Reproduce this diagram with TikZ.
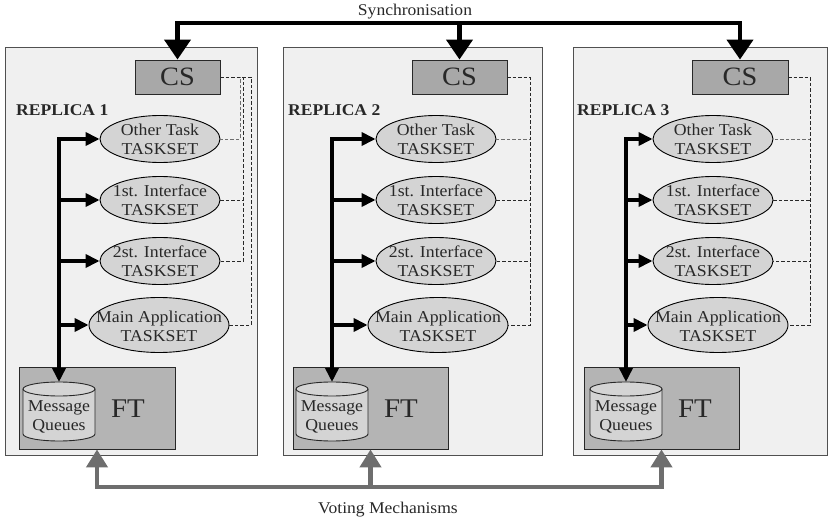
\documentclass[tikz,border=0pt]{standalone}
\usepackage{fontspec}
\setmainfont{Liberation Serif}[FakeStretch=1.07]
\usetikzlibrary{arrows.meta,shapes.geometric}

\definecolor{replicabg}{RGB}{240,240,240}
\definecolor{replicaline}{RGB}{80,80,80}
\definecolor{csfill}{RGB}{168,168,168}
\definecolor{ftfill}{RGB}{180,180,180}
\definecolor{taskfill}{RGB}{212,212,212}
\definecolor{votegray}{RGB}{110,110,110}
\definecolor{inkgray}{RGB}{40,40,40}
\definecolor{lightdash}{RGB}{110,110,110}

\tikzset{
  replicabox/.style={draw=replicaline, fill=replicabg, line width=0.9pt},
  csbox/.style={draw=inkgray, fill=csfill, line width=0.9pt, rectangle,
    minimum height=34pt, inner sep=0pt, font=\fontsize{26.5}{28}\selectfont, text=inkgray},
  ftbox/.style={draw=inkgray, fill=ftfill, line width=0.9pt, rectangle,
    minimum height=82pt, inner sep=0pt},
  ftlabel/.style={font=\fontsize{27}{28}\selectfont, text=inkgray, inner sep=0pt},
  task/.style={draw=black, fill=taskfill, line width=0.9pt, ellipse,
    minimum width=120pt, minimum height=47pt, inner sep=0pt},
  maintask/.style={task, minimum width=140pt, minimum height=55pt},
  tasktext/.style={align=center, inner sep=0pt, text=inkgray,
    font=\fontsize{16.6}{19}\selectfont},
  replicalabel/.style={anchor=base west, inner sep=0pt, text=inkgray,
    font=\fontsize{16.4}{19}\selectfont\bfseries},
  caption/.style={anchor=base, inner sep=0pt, text=inkgray,
    font=\fontsize{16.4}{19}\selectfont},
  bus/.style={draw=black, line width=3.8pt, line join=miter,
    -{Triangle[length=14pt,width=13pt]}},
  busboth/.style={bus, {Triangle[length=14pt,width=13pt]}-{Triangle[length=14pt,width=13pt]}},
  syncarrow/.style={draw=black, line width=4.3pt, line join=miter,
    -{Triangle[length=20pt,width=26pt]}},
  syncboth/.style={syncarrow, {Triangle[length=20pt,width=26pt]}-{Triangle[length=20pt,width=26pt]}},
  votearrow/.style={draw=votegray, line width=4.3pt, line join=miter,
    -{Triangle[length=18pt,width=21pt]}},
  voteboth/.style={votearrow, {Triangle[length=18pt,width=21pt]}-{Triangle[length=18pt,width=21pt]}},
  dashlink/.style={draw=inkgray, line width=0.9pt, dash pattern=on 3.5pt off 2pt},
  dashlight/.style={dashlink, draw=lightdash},
  cylline/.style={draw=inkgray, line width=0.9pt},
}

\begin{document}
\begin{tikzpicture}[x=1pt, y=-1pt]
\useasboundingbox (0,0) rectangle (828,519);

% one replica per row of parameters:
% index / box left / box right / label x / CS left / CS right / task x / main task x /
% bus x / FT left / FT right / dashed x (other task) / dashed x (interfaces) / dashed x (main)
\foreach \i/\L/\R/\rx/\csl/\csr/\E/\Em/\B/\fl/\fr/\da/\db/\dc in {
  1/5/257/16/135/220/160/159/59/19/175/240/243/251,
  2/283/542/288/412/507/436/438/332/293/448/530/530/530,
  3/573/827/577/692/788/713/718/626/584/739/810/810/810}{
  % replica frame
  \draw[replicabox] (\L,47) rectangle (\R,455);
  \node[replicalabel] (rl\i) at (\rx,115) {REPLICA \i};

  % CS block
  \node[csbox, minimum width={\csr-\csl}] (cs\i) at ({(\csl+\csr)/2},77) {CS};

  % task sets
  \node[task] (ot\i) at (\E,139) {};
  \node[tasktext] (otl\i) at (ot\i) {Other Task\\TASKSET};
  \node[task] (ia\i) at (\E,200) {};
  \node[tasktext] (ial\i) at (ia\i) {1st. Interface\\TASKSET};
  \node[task] (ib\i) at (\E,261) {};
  \node[tasktext] (ibl\i) at (ib\i) {2st. Interface\\TASKSET};
  \node[maintask] (ma\i) at (\Em,325) {};
  \node[tasktext] (mal\i) at ([yshift=-1pt]ma\i) {Main Application\\TASKSET};

  % FT block with the message queue cylinder
  \node[ftbox, minimum width={\fr-\fl}] (ft\i) at ({(\fl+\fr)/2},408) {};
  \node[ftlabel] (ftl\i) at ({\B+69},409) {FT};
  \fill[taskfill] ({\B-36},389) -- ({\B-36},434)
     arc[start angle=180, end angle=360, x radius=36pt, y radius=7pt]
     -- ({\B+36},389) arc[start angle=0, end angle=180, x radius=36pt, y radius=7pt] -- cycle;
  \draw[cylline] ({\B-36},389) -- ({\B-36},434)
     arc[start angle=180, end angle=360, x radius=36pt, y radius=7pt]
     -- ({\B+36},389);
  \draw[cylline] (\B,389) ellipse[x radius=36pt, y radius=7pt];
  \coordinate (cy\i) at (\B,382);
  \node[tasktext] (mq\i) at (\B,417) {Message\\Queues};

  % internal bus from the task sets to the message queues
  \draw[busboth] (ot\i.west) -| (cy\i);
  \draw[bus] (ia\i.west -| cy\i) -- (ia\i.west);
  \draw[bus] (ib\i.west -| cy\i) -- (ib\i.west);
  \draw[bus] (ma\i.west -| cy\i) -- (ma\i.west);

  % dashed links between CS and each task set
  \coordinate (da\i) at (\da,0);
  \coordinate (db\i) at (\db,0);
  \coordinate (dc\i) at (\dc,0);
  \draw[dashlight] (cs\i.east) -| (da\i |- ot\i.east) -- (ot\i.east);
  \draw[dashlink] (cs\i.east) -| (db\i |- ib\i.east) -- (ib\i.east);
  \draw[dashlink] (ia\i.east) -- (db\i |- ia\i.east);
  \draw[dashlink] (cs\i.east) -| (dc\i |- ma\i.east) -- (ma\i.east);
}

% synchronisation bus across the CS blocks
\coordinate (syncbar) at (0,23);
\draw[syncboth] (cs1.north) |- (cs3.north |- syncbar) -- (cs3.north);
\draw[syncarrow] (cs2.north |- syncbar) -- (cs2.north);
\node[caption] (synclabel) at (415,16) {Synchronisation};

% voting bus across the FT blocks
\coordinate (votebar) at (0,487);
\draw[voteboth] (ft1.south) |- (ft3.south |- votebar) -- (ft3.south);
\draw[votearrow] (ft2.south |- votebar) -- (ft2.south);
\node[caption] (votelabel) at (388,513) {Voting Mechanisms};
\end{tikzpicture}
\end{document}
